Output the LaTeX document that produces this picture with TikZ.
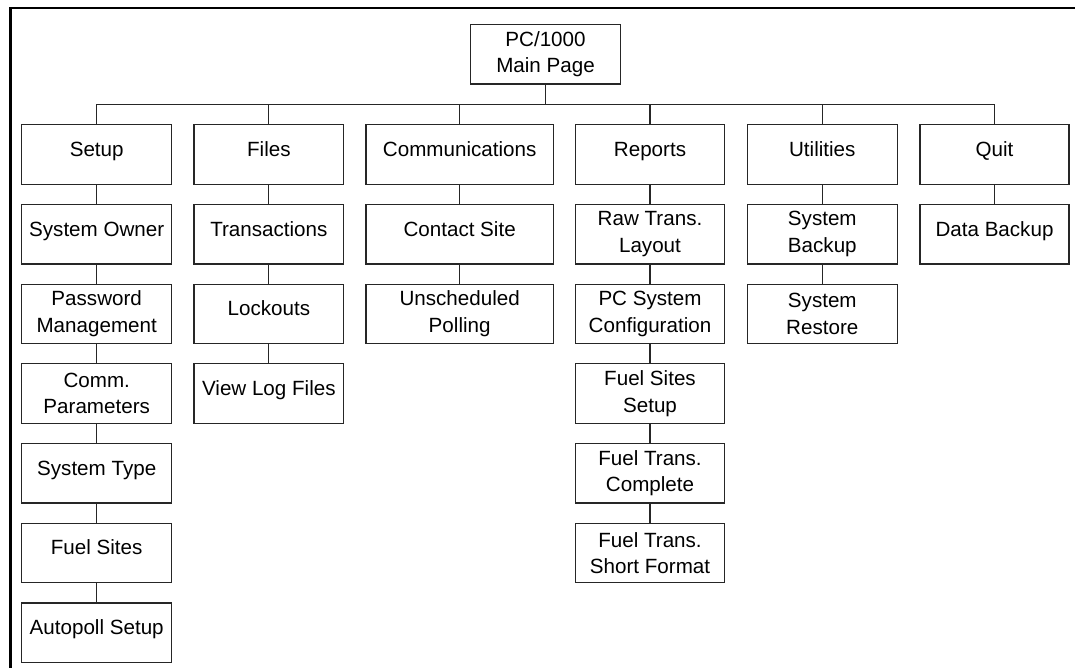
\documentclass[tikz,border=0pt]{standalone}
\usepackage{fontspec}
\setmainfont{Liberation Sans}
\begin{document}
\begin{tikzpicture}[x=0.5pt,y=-0.5pt,
  box/.style={draw=black!85, line width=0.6pt, minimum height=29.75pt, inner sep=0pt,
    align=center, font=\fontsize{10.3}{13.3}\selectfont},
  one/.style={text height=7.2pt, text depth=5.2pt},
  two/.style={},
  link/.style={draw=black!85, line width=0.6pt},
  frame/.style={line width=1.25pt, line cap=rect}]
\useasboundingbox (0,0) rectangle (1075,668);
\draw[frame] (1076,7.8) -- (10.7,7.8) -- (10.7,669);
\newcommand\bx[6]{%
  \node[box, #5, minimum width={(#3-#2)*0.5pt}] (#1) at ({(#2+#3)/2},{124.7+#4*79.7+29.75}) {#6};}
% main
\node[box, two, minimum width=74.8pt] (main) at (545.5,54.3) {PC/1000\\Main Page};
% Setup column
\bx{setup}{21.7}{171.7}{0}{one}{Setup}
\bx{sowner}{21.7}{171.7}{1}{one}{System Owner}
\bx{pwd}{21.7}{171.7}{2}{two}{Password\\Management}
\bx{comm}{21.7}{171.7}{3}{two}{Comm.\\Parameters}
\bx{stype}{21.7}{171.7}{4}{one}{System Type}
\bx{fsites}{21.7}{171.7}{5}{one}{Fuel Sites}
\bx{autop}{21.7}{171.7}{6}{one}{Autopoll Setup}
% Files column
\bx{files}{194}{343.7}{0}{one}{Files}
\bx{trans}{194}{343.7}{1}{one}{Transactions}
\bx{lock}{194}{343.7}{2}{one}{Lockouts}
\bx{vlog}{194}{343.7}{3}{one}{View Log Files}
% Communications column
\bx{comms}{366}{553.3}{0}{one}{Communications}
\bx{csite}{366}{553.3}{1}{one}{Contact Site}
\bx{upoll}{366}{553.3}{2}{two}{Unscheduled\\Polling}
% Reports column
\bx{reports}{575.3}{724.7}{0}{one}{Reports}
\bx{raw}{575.3}{724.7}{1}{two}{Raw Trans.\\Layout}
\bx{pcsys}{575.3}{724.7}{2}{two}{PC System\\Configuration}
\bx{fss}{575.3}{724.7}{3}{two}{Fuel Sites\\Setup}
\bx{ftc}{575.3}{724.7}{4}{two}{Fuel Trans.\\Complete}
\bx{fts}{575.3}{724.7}{5}{two}{Fuel Trans.\\Short Format}
% Utilities column
\bx{util}{747.3}{897.3}{0}{one}{Utilities}
\bx{sback}{747.3}{897.3}{1}{two}{System\\Backup}
\bx{srest}{747.3}{897.3}{2}{two}{System\\Restore}
% Quit column
\bx{quit}{920}{1069}{0}{one}{Quit}
\bx{dback}{920}{1069}{1}{one}{Data Backup}
% bus
\coordinate (bus) at (545.5,104.3);
\draw[link] (main.south) -- (main.south |- bus);
\draw[link] (setup.north |- bus) -- (quit.north |- bus);
\foreach \n in {setup,files,comms,reports,util,quit}
  \draw[link] (\n.north |- bus) -- (\n.north);
% column links
\draw[link] (setup) -- (sowner);
\draw[link] (sowner) -- (pwd);
\draw[link] (pwd) -- (comm);
\draw[link] (comm) -- (stype);
\draw[link] (stype) -- (fsites);
\draw[link] (fsites) -- (autop);
\draw[link] (files) -- (trans);
\draw[link] (trans) -- (lock);
\draw[link] (lock) -- (vlog);
\draw[link] (comms) -- (csite);
\draw[link] (csite) -- (upoll);
\draw[link] (reports) -- (raw);
\draw[link] (raw) -- (pcsys);
\draw[link] (pcsys) -- (fss);
\draw[link] (fss) -- (ftc);
\draw[link] (ftc) -- (fts);
\draw[link] (util) -- (sback);
\draw[link] (sback) -- (srest);
\draw[link] (quit) -- (dback);
\end{tikzpicture}
\end{document}
